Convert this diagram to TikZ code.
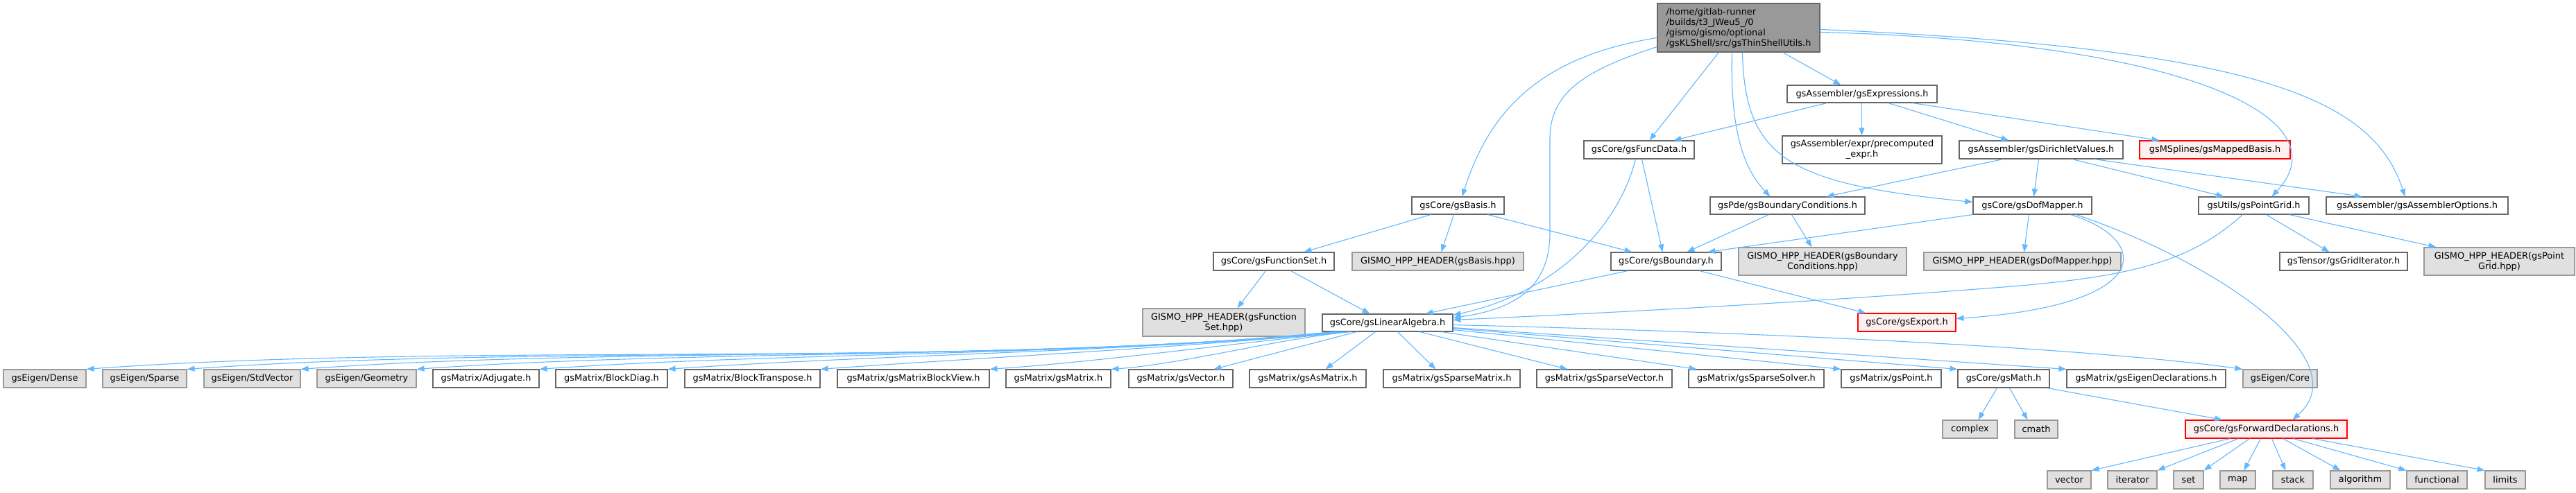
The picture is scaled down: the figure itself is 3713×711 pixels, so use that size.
\documentclass[tikz,border=0pt]{standalone}
\usepackage{fontspec}
\setmainfont{DejaVu Sans}
\usetikzlibrary{arrows.meta}
\definecolor{edgecol}{HTML}{63B8FF}
\definecolor{nbord}{HTML}{666666}
\definecolor{gbord}{HTML}{999999}
\definecolor{gfill}{HTML}{E0E0E0}
\definecolor{rfill}{HTML}{FFF0F0}
\definecolor{rbord}{HTML}{FF0000}
\definecolor{rootfill}{HTML}{999999}
\newcommand\bx[7]{\node[#1, minimum width={#5pt-#3pt}, minimum height={#6pt-#4pt}] (#2) at ({(#3+#5)/2},{(#4+#6)/2}) {#7};}
\tikzset{
  base/.style={line width=1.1pt, inner sep=0pt, align=center, font=\fontsize{12.9}{15}\selectfont},
  wbox/.style={base, draw=nbord, fill=white},
  gbox/.style={base, draw=gbord, fill=gfill},
  rbox/.style={base, draw=rbord, fill=rfill},
  rootbox/.style={base, draw=nbord, fill=rootfill, align=left},
  edge/.style={draw=edgecol, line width=1.1pt, -{Triangle[length=11pt,width=8pt]}}
}
\begin{document}
\begin{tikzpicture}[x=1pt,y=-1pt]
\fill[white] (0,0) rectangle (3713,711);
\useasboundingbox (0,0) rectangle (3713,711);
% nodes
\bx{rootbox}{root}{2389}{5}{2623}{75}{/home/gitlab-runner\\/builds/t3\_JWeu5\_/0\\/gismo/gismo/optional\\/gsKLShell/src/gsThinShellUtils.h}
\bx{wbox}{expr}{2576}{123}{2792}{148}{gsAssembler/gsExpressions.h}
\bx{wbox}{funcdata}{2283}{203}{2442}{229}{gsCore/gsFuncData.h}
\bx{wbox}{precomp}{2569}{196}{2799}{236}{gsAssembler/expr/precomputed\\\_expr.h}
\bx{wbox}{dirichlet}{2824}{203}{3060}{229}{gsAssembler/gsDirichletValues.h}
\bx{rbox}{mapped}{3084}{203}{3301}{229}{gsMSplines/gsMappedBasis.h}
\bx{wbox}{basis}{2035}{284}{2168}{309}{gsCore/gsBasis.h}
\bx{wbox}{bc}{2465}{284}{2688}{309}{gsPde/gsBoundaryConditions.h}
\bx{wbox}{dof}{2844}{284}{3015}{309}{gsCore/gsDofMapper.h}
\bx{wbox}{pgrid}{3169}{284}{3328}{309}{gsUtils/gsPointGrid.h}
\bx{wbox}{asmopt}{3353}{284}{3615}{309}{gsAssembler/gsAssemblerOptions.h}
\bx{wbox}{fset}{1749}{364}{1923}{390}{gsCore/gsFunctionSet.h}
\bx{gbox}{basishpp}{1949}{364}{2196}{390}{GISMO\_HPP\_HEADER(gsBasis.hpp)}
\bx{wbox}{boundary}{2322}{364}{2481}{390}{gsCore/gsBoundary.h}
\bx{gbox}{bchpp}{2506}{357}{2748}{397}{GISMO\_HPP\_HEADER(gsBoundary\\Conditions.hpp)}
\bx{gbox}{dofhpp}{2773}{364}{3057}{390}{GISMO\_HPP\_HEADER(gsDofMapper.hpp)}
\bx{wbox}{griditer}{3286}{364}{3470}{390}{gsTensor/gsGridIterator.h}
\bx{gbox}{pgridhpp}{3494}{357}{3711}{397}{GISMO\_HPP\_HEADER(gsPoint\\Grid.hpp)}
\bx{gbox}{fsethpp}{1647}{445}{1881}{485}{GISMO\_HPP\_HEADER(gsFunction\\Set.hpp)}
\bx{wbox}{la}{1906}{453}{2094}{478}{gsCore/gsLinearAlgebra.h}
\bx{rbox}{export}{2678}{452}{2819}{478}{gsCore/gsExport.h}
% bottom row
\bx{gbox}{dense}{5}{533}{124}{559}{gsEigen/Dense}
\bx{gbox}{sparse}{148}{533}{269}{559}{gsEigen/Sparse}
\bx{gbox}{stdvec}{294}{533}{433}{559}{gsEigen/StdVector}
\bx{gbox}{geom}{457}{533}{600}{559}{gsEigen/Geometry}
\bx{wbox}{adj}{624}{533}{777}{559}{gsMatrix/Adjugate.h}
\bx{wbox}{bdiag}{801}{533}{962}{559}{gsMatrix/BlockDiag.h}
\bx{wbox}{btrans}{987}{533}{1182}{559}{gsMatrix/BlockTranspose.h}
\bx{wbox}{mbv}{1207}{533}{1426}{559}{gsMatrix/gsMatrixBlockView.h}
\bx{wbox}{gsmat}{1450}{533}{1601}{559}{gsMatrix/gsMatrix.h}
\bx{wbox}{gsvec}{1627}{533}{1777}{559}{gsMatrix/gsVector.h}
\bx{wbox}{asmat}{1801}{533}{1969}{559}{gsMatrix/gsAsMatrix.h}
\bx{wbox}{spmat}{1994}{533}{2191}{559}{gsMatrix/gsSparseMatrix.h}
\bx{wbox}{spvec}{2215}{533}{2410}{559}{gsMatrix/gsSparseVector.h}
\bx{wbox}{spsolv}{2434}{533}{2629}{559}{gsMatrix/gsSparseSolver.h}
\bx{wbox}{gspoint}{2654}{533}{2798}{559}{gsMatrix/gsPoint.h}
\bx{wbox}{gsmath}{2822}{533}{2954}{559}{gsCore/gsMath.h}
\bx{wbox}{eigdecl}{2979}{533}{3208}{559}{gsMatrix/gsEigenDeclarations.h}
\bx{gbox}{eigcore}{3233}{533}{3340}{559}{gsEigen/Core}
\bx{gbox}{complex}{2800}{606}{2879}{632}{complex}
\bx{gbox}{cmath}{2904}{606}{2966}{632}{cmath}
\bx{rbox}{fwd}{3150}{606}{3383}{632}{gsCore/gsForwardDeclarations.h}
\bx{gbox}{vector}{2951}{679}{3014}{705}{vector}
\bx{gbox}{iterator}{3038}{679}{3109}{705}{iterator}
\bx{gbox}{set}{3133}{679}{3176}{705}{set}
\bx{gbox}{map}{3200}{679}{3251}{705}{map}
\bx{gbox}{stack}{3276}{679}{3334}{705}{stack}
\bx{gbox}{algorithm}{3359}{679}{3445}{705}{algorithm}
\bx{gbox}{functional}{3469}{679}{3556}{705}{functional}
\bx{gbox}{limits}{3582}{679}{3640}{705}{limits}
% root edges
\draw[edge] ([yshift=-50pt]root.north west) .. controls (2230,80) and (2150,150) .. ([xshift=73pt]basis.north west);
\draw[edge] ([yshift=-63pt]root.north west) .. controls (2290,100) and (2234,130) .. (2234,200) -- (2234,335) .. controls (2234,410) and (2190,445) .. ([yshift=-6pt]la.north east);
\draw[edge] ([xshift=89pt]root.south west) -- ([xshift=95pt]funcdata.north west);
\draw[edge] ([xshift=181pt]root.south west) -- ([xshift=78pt]expr.north west);
\draw[edge] ([xshift=108pt]root.south west) .. controls (2494,180) and (2510,240) .. ([xshift=87pt]bc.north west);
\draw[edge] ([xshift=123pt]root.south west) .. controls (2515,230) and (2580,265) .. ([yshift=-8pt]dof.north west);
\draw[edge] ([yshift=-42pt]root.north east) .. controls (3150,60) and (3380,170) .. ([xshift=106pt]pgrid.north west);
\draw[edge] ([yshift=-38pt]root.north east) .. controls (3250,70) and (3420,140) .. ([xshift=114pt]asmopt.north west);
% expressions
\draw[edge] ([xshift=58pt]expr.south west) -- ([xshift=130pt]funcdata.north west);
\draw[edge] ([xshift=108pt]expr.south west) -- ([xshift=115pt]precomp.north west);
\draw[edge] ([xshift=146pt]expr.south west) -- ([xshift=72pt]dirichlet.north west);
\draw[edge] ([xshift=181pt]expr.south west) -- ([xshift=29pt]mapped.north west);
% dirichlet
\draw[edge] ([xshift=64pt]dirichlet.south west) -- ([xshift=168pt]bc.north west);
\draw[edge] ([xshift=115pt]dirichlet.south west) -- ([xshift=88pt]dof.north west);
\draw[edge] ([xshift=163pt]dirichlet.south west) -- ([xshift=37pt]pgrid.north west);
\draw[edge] ([xshift=195pt]dirichlet.south west) -- ([xshift=52pt]asmopt.north west);
% funcdata
\draw[edge] ([xshift=75pt]funcdata.south west) .. controls (2335,320) and (2250,420) .. ([yshift=-2pt]la.north east);
\draw[edge] ([xshift=84pt]funcdata.south west) -- ([xshift=75pt]boundary.north west);
% basis
\draw[edge] ([xshift=28pt]basis.south west) -- ([xshift=131pt]fset.north west);
\draw[edge] ([xshift=61pt]basis.south west) -- ([xshift=129pt]basishpp.north west);
\draw[edge] ([xshift=110pt]basis.south west) -- ([xshift=31pt]boundary.north west);
% boundary conditions
\draw[edge] ([xshift=85pt]bc.south west) -- ([xshift=110pt]boundary.north west);
\draw[edge] ([xshift=118pt]bc.south west) -- ([xshift=106pt]bchpp.north west);
% dof mapper
\draw[edge] (dof.south west) -- ([xshift=140pt]boundary.north west);
\draw[edge] ([xshift=81pt]dof.south west) -- ([xshift=145pt]dofhpp.north west);
\draw[edge] ([xshift=141pt]dof.south west) .. controls (3100,345) and (3110,440) .. ([yshift=-8pt]export.north east);
\draw[edge] ([xshift=149pt]dof.south west) .. controls (3200,380) and (3400,520) .. ([xshift=155pt]fwd.north west);
% point grid
\draw[edge] ([xshift=64pt]pgrid.south west) .. controls (3160,375) and (3080,398) .. (2900,413) .. controls (2600,437) and (2300,452) .. ([yshift=-9pt]la.north east);
\draw[edge] ([xshift=98pt]pgrid.south west) -- ([xshift=72pt]griditer.north west);
\draw[edge] ([xshift=131pt]pgrid.south west) -- ([xshift=18pt]pgridhpp.north west);
% function set
\draw[edge] ([xshift=76pt]fset.south west) -- ([xshift=137pt]fsethpp.north west);
\draw[edge] ([xshift=112pt]fset.south west) -- ([xshift=69pt]la.north west);
% boundary
\draw[edge] ([xshift=25pt]boundary.south west) -- ([xshift=149pt]la.north west);
\draw[edge] ([xshift=128pt]boundary.south west) -- ([xshift=12pt]export.north west);
% linear algebra
\draw[edge] ([xshift=16pt]la.south west) .. controls (1383,532) and (663,493) .. (dense.north east);
\draw[edge] ([xshift=19pt]la.south west) .. controls (1428,528) and (766,497) .. (sparse.north east);
\draw[edge] ([xshift=22pt]la.south west) .. controls (1480,523) and (882,500) .. (stdvec.north east);
\draw[edge] ([xshift=25pt]la.south west) .. controls (1532,518) and (999,504) .. (geom.north east);
\draw[edge] ([xshift=28pt]la.south west) .. controls (1587,513) and (1124,508) .. (adj.north east);
\draw[edge] ([xshift=31pt]la.south west) .. controls (1645,507) and (1255,512) .. (bdiag.north east);
\draw[edge] ([xshift=34pt]la.south west) .. controls (1713,501) and (1409,516) .. (btrans.north east);
\draw[edge] ([xshift=38pt]la.south west) .. controls (1789,494) and (1581,522) .. (mbv.north east);
\draw[edge] ([xshift=42pt]la.south west) .. controls (1844,488) and (1705,525) .. (gsmat.north east);
\draw[edge] ([xshift=50pt]la.south west) -- ([xshift=123pt]gsvec.north west);
\draw[edge] ([xshift=77pt]la.south west) -- ([xshift=110pt]asmat.north west);
\draw[edge] ([xshift=109pt]la.south west) -- ([xshift=76pt]spmat.north west);
\draw[edge] ([xshift=141pt]la.south west) -- ([xshift=45pt]spvec.north west);
\draw[edge] ([xshift=172pt]la.south west) -- ([xshift=12pt]spsolv.north west);
\draw[edge] ([yshift=3pt]la.south east) -- (gspoint.north west);
\draw[edge] ([yshift=5pt]la.south east) -- (gsmath.north west);
\draw[edge] ([yshift=6pt]la.south east) -- (eigdecl.north west);
\draw[edge] ([yshift=10pt]la.south east) .. controls (2500,478) and (3000,500) .. (eigcore.north west);
% math
\draw[edge] ([xshift=57pt]gsmath.south west) -- ([xshift=52pt]complex.north west);
\draw[edge] ([xshift=75pt]gsmath.south west) -- ([xshift=19pt]cmath.north west);
\draw[edge] ([xshift=129pt]gsmath.south west) -- ([xshift=54pt]fwd.north west);
% forward declarations
\draw[edge] ([xshift=65pt]fwd.south west) -- (vector.north east);
\draw[edge] ([xshift=77pt]fwd.south west) -- (iterator.north east);
\draw[edge] ([xshift=93pt]fwd.south west) -- (set.north east);
\draw[edge] ([xshift=109pt]fwd.south west) -- ([xshift=35pt]map.north west);
\draw[edge] ([xshift=125pt]fwd.south west) -- ([xshift=19pt]stack.north west);
\draw[edge] ([xshift=141pt]fwd.south west) -- ([xshift=15pt]algorithm.north west);
\draw[edge] ([xshift=156pt]fwd.south west) -- (functional.north west);
\draw[edge] ([xshift=184pt]fwd.south west) -- (limits.north west);
\end{tikzpicture}
\end{document}
